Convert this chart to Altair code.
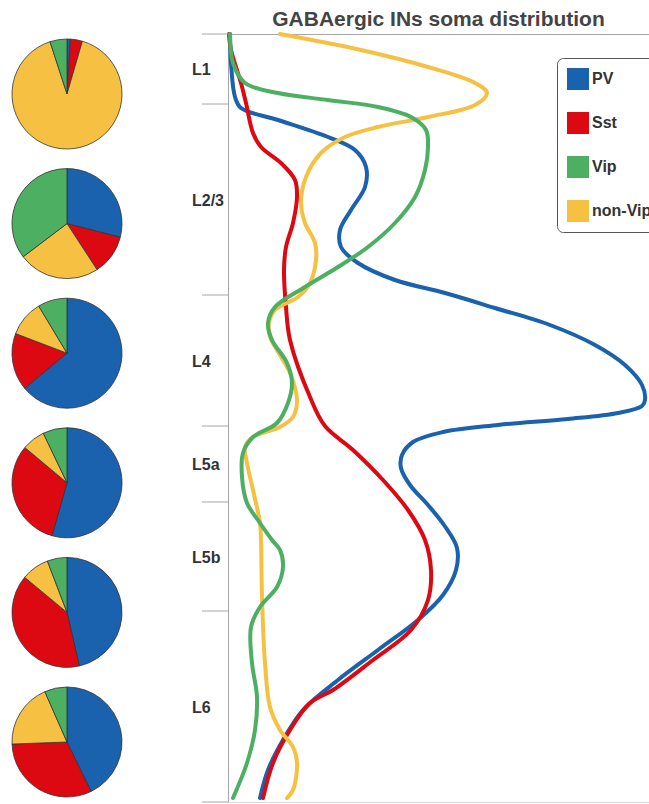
import altair as alt
import pandas as pd

# ---------------- data ----------------
types = ["PV", "Sst", "Vip", "non-Vip"]
colors = ["#1a62ae", "#dc0912", "#4caf62", "#f6c143"]

# cortical layer boundaries (depth units, 0 = pia) and names
layer_names = ["L1", "L2/3", "L4", "L5a", "L5b", "L6"]
layer_bounds = [0, 70, 261, 392, 468, 577, 768]

# density profiles: depth / density pairs
pv_depth = [0, 29, 63, 74, 86, 103, 116, 133, 153, 176, 196, 213, 229, 246, 259, 274,
            291, 311, 331, 351, 366, 372, 379, 385, 391, 398, 408, 421, 434, 451, 471,
            491, 514, 536, 561, 586, 616, 646, 676, 706, 736, 764]
pv_dens = [2, 3, 7, 13, 50, 100, 127, 138, 137, 123, 112, 113, 130, 167, 217, 267,
           322, 367, 397, 414, 417, 414, 390, 340, 270, 215, 185, 174, 173, 182, 200,
           216, 229, 228, 215, 190, 150, 110, 75, 55, 40, 32]

sst_depth = [0, 16, 49, 69, 99, 113, 129, 146, 163, 189, 213, 236, 273, 306, 363, 392,
             416, 446, 476, 506, 536, 566, 596, 626, 656, 669, 696, 729, 764]
sst_dens = [1, 3, 13, 18, 25, 33, 53, 67, 69, 65, 58, 56, 58, 62, 82, 97,
            125, 155, 180, 197, 203, 200, 183, 145, 105, 82, 62, 45, 35]

vip_depth = [0, 29, 49, 59, 66, 73, 83, 96, 113, 136, 163, 189, 213, 233, 253, 273,
             289, 306, 329, 349, 369, 389, 403, 419, 443, 469, 489, 506, 516, 533, 553,
             573, 593, 629, 663, 696, 729, 764]
vip_dens = [2, 5, 17, 50, 100, 150, 183, 198, 200, 197, 187, 167, 140, 110, 77, 47,
            40, 44, 59, 64, 60, 49, 25, 15, 14, 19, 32, 44, 52, 55, 49,
            32, 23, 24, 29, 27, 19, 5]

nonvip_depth = [0, 16, 33, 49, 59, 71, 83, 93, 103, 119, 143, 169, 189, 209, 226, 249,
                263, 276, 289, 303, 321, 339, 366, 383, 393, 403, 413, 429, 456, 489,
                506, 563, 629, 673, 696, 713, 729, 756, 764]
nonvip_dens = [52, 133, 200, 247, 259, 247, 200, 150, 117, 93, 78, 73, 77, 87, 88, 82,
               70, 47, 41, 42, 52, 62, 69, 65, 52, 25, 17, 19, 25, 32,
               33, 34, 37, 42, 52, 65, 69, 65, 59]

# pie fractions per layer (%), clockwise from 12 o'clock: PV, Sst, non-Vip, Vip
pie_pv = [1.0, 29.0, 64.0, 54.4, 46.4, 42.8]
pie_sst = [3.5, 11.8, 16.8, 31.7, 39.6, 31.6]
pie_nonvip = [90.5, 23.9, 10.6, 6.8, 8.2, 19.0]
pie_vip = [5.0, 35.3, 8.6, 7.1, 5.8, 6.6]

# ---------------- tables ----------------
rows = []
for name, dep, den in [("PV", pv_depth, pv_dens), ("Sst", sst_depth, sst_dens),
                       ("non-Vip", nonvip_depth, nonvip_dens), ("Vip", vip_depth, vip_dens)]:
    for d, v in zip(dep, den):
        rows.append({"type": name, "depth": d, "dens": v})
lines_df = pd.DataFrame(rows)

bounds_df = pd.DataFrame({"depth": layer_bounds})
labels_df = pd.DataFrame({
    "label": layer_names,
    "mid": [(layer_bounds[i] + layer_bounds[i + 1]) / 2 for i in range(len(layer_names))],
})

pie_rows = []
for i, lname in enumerate(layer_names):
    for o, (t, arr) in enumerate([("PV", pie_pv), ("Sst", pie_sst),
                                  ("non-Vip", pie_nonvip), ("Vip", pie_vip)]):
        pie_rows.append({"layer": lname, "type": t, "ord": o, "frac": arr[i]})
pie_df = pd.DataFrame(pie_rows)

FONT = "Liberation Sans"
AXIS_GRAY = "#a6a6a6"
cscale = alt.Scale(domain=types, range=colors)

legend_opts = dict(
    orient="none", legendX=329, legendY=24, title="",
    symbolType="square", symbolSize=484, symbolStrokeWidth=0,
    labelFontSize=16, labelFontWeight="bold", labelColor="#333333",
    labelFont=FONT, labelOffset=3, rowPadding=22, padding=10,
    strokeColor="#555555", cornerRadius=6, fillColor="white",
)

yscale = alt.Scale(domain=[0, 768], reverse=True, nice=False, zero=False)

lines = alt.Chart(lines_df).mark_line(
    strokeWidth=4, interpolate="catmull-rom", strokeCap="round"
).encode(
    x=alt.X("dens:Q", scale=alt.Scale(domain=[0, 421], nice=False),
            axis=alt.Axis(orient="top", domain=True, domainColor=AXIS_GRAY,
                          ticks=False, labels=False, grid=False, title="")),
    y=alt.Y("depth:Q", scale=yscale,
            axis=alt.Axis(domain=True, domainColor=AXIS_GRAY, ticks=False,
                          labels=False, grid=False, title="")),
    stroke=alt.Stroke("type:N", scale=cscale, legend=alt.Legend(**legend_opts)),
    order=alt.Order("depth:Q"),
)

rules = alt.Chart(bounds_df).mark_rule(color=AXIS_GRAY, strokeWidth=1).encode(
    y=alt.Y("depth:Q", scale=yscale),
    x=alt.value(-26),
    x2=alt.value(0),
)

texts = alt.Chart(labels_df).mark_text(
    align="left", baseline="middle", fontSize=16, fontWeight="bold",
    color="#333333", font=FONT, dy=1
).encode(
    y=alt.Y("mid:Q", scale=yscale),
    x=alt.value(-36),
    text="label:N",
)

inner = alt.layer(lines, rules, texts)

pies = alt.Chart(pie_df).mark_arc(
    outerRadius=55, stroke="#333333", strokeWidth=0.8
).transform_joinaggregate(
    total="sum(frac)", groupby=["layer"]
).transform_window(
    cum="sum(frac)", groupby=["layer"], sort=[alt.SortField("ord")], frame=[None, 0]
).transform_calculate(
    t0="(datum.cum - datum.frac) / datum.total",
    t1="datum.cum / datum.total",
).encode(
    theta=alt.Theta("t0:Q", stack=False,
                    scale=alt.Scale(domain=[0, 1], range=[0, 6.283185])),
    theta2="t1:Q",
    y=alt.Y("layer:N", sort=layer_names,
            scale=alt.Scale(type="point", padding=0.463), axis=None),
    x=alt.value(-161),
    fill=alt.Fill("type:N", scale=cscale, legend=alt.Legend(**legend_opts)),
    order=alt.Order("ord:Q"),
)

chart = alt.layer(inner, pies).resolve_scale(y="independent").properties(
    width=421,
    height=768,
    autosize=alt.AutoSizeParams(type="none"),
    padding={"left": 228, "top": 34, "right": 0, "bottom": 2},
    title=alt.TitleParams("GABAergic INs soma distribution", fontSize=21,
                          fontWeight="bold", color="#444444", font=FONT,
                          anchor="middle", offset=-4),
).configure_view(strokeWidth=0).configure(font=FONT)

chart.save("out.html", embed_options={"renderer": "svg", "actions": False})
